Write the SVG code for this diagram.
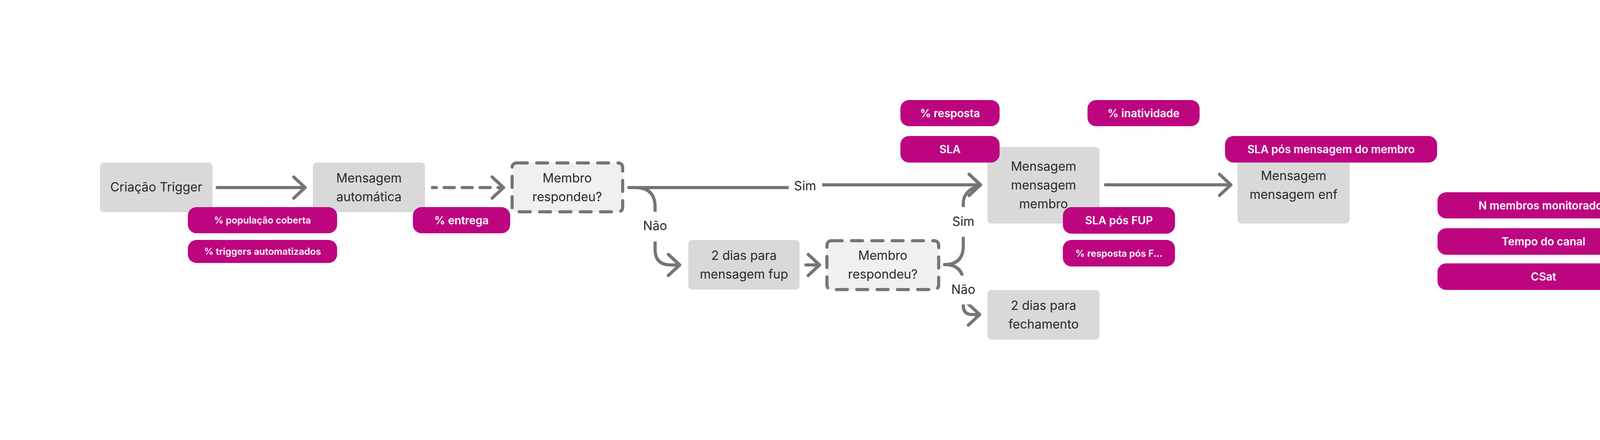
<svg xmlns="http://www.w3.org/2000/svg" width="4480" height="1126" viewBox="0 0 4480 1126">
<defs>
<style>
.bg{fill:#ffffff}
.box{fill:#d9d9d9}
.dec{fill:#f0f0f0;stroke:#757575;stroke-width:8;stroke-dasharray:28 24;stroke-linecap:round;stroke-linejoin:round}
.t{font-family:Inter,'Noto Sans','DejaVu Sans',sans-serif;font-size:32px;fill:#2a2a2a;text-anchor:middle}
.pill{fill:#bd0580}
.pt{font-family:Inter,'Noto Sans','DejaVu Sans',sans-serif;font-size:28px;font-weight:600;fill:#ffffff;text-anchor:middle}
.ps{font-size:24px}
.c{fill:none;stroke:#757575;stroke-width:8;stroke-linecap:round;stroke-linejoin:round}
.dash{stroke-dasharray:26 20;stroke-dashoffset:16}
.lbg{fill:#ffffff}
</style>
<marker id="chev" markerUnits="userSpaceOnUse" viewBox="-40 -40 80 80" markerWidth="80" markerHeight="80" refX="0" refY="0" orient="0" overflow="visible">
<path d="M-29,-27 L0,0 L-29,27" fill="none" stroke="#757575" stroke-width="8" stroke-linecap="round" stroke-linejoin="round" stroke-dasharray="none"/>
</marker>
</defs>
<rect class="bg" x="0" y="0" width="4480" height="1126"/>

<g id="connectors">
<path class="c" d="M556,480 H781" marker-end="url(#chev)"/>
<path class="c dash" d="M1107,480 H1289" marker-end="url(#chev)"/>
<path class="c" d="M1610,480 H2061 V473 H2510" marker-end="url(#chev)"/>
<path class="c" d="M1610,480 H1627 Q1677,480 1677,530 V638 Q1677,678 1717,678 H1740" marker-end="url(#chev)"/>
<path class="c" d="M2063,678 H2098" marker-end="url(#chev)"/>
<path class="c" d="M2418,677 Q2466,677 2466,629 V520 C2466,498 2482,482 2510,473" marker-end="url(#chev)"/>
<path class="c" d="M2418,677 Q2466,677 2466,725 V782 Q2466,805 2489,805 H2508" marker-end="url(#chev)"/>
<path class="c" d="M2830,473 H3151" marker-end="url(#chev)"/>
<rect class="lbg" x="2019" y="455" width="86" height="45"/>
<text class="t" x="2061" y="487">Sim</text>
<rect class="lbg" x="1643" y="542" width="68" height="76"/>
<text class="t" x="1677" y="589">Não</text>
<rect class="lbg" x="2434" y="530" width="64" height="76"/>
<text class="t" x="2466" y="578">Sim</text>
<rect class="lbg" x="2432" y="705" width="68" height="74"/>
<text class="t" x="2466" y="752">Não</text>
</g>

<g id="criacao-trigger">
<rect class="box" x="256" y="416" width="288" height="127" rx="10"/>
<text class="t" x="400" y="490">Criação Trigger</text>
</g>
<g id="mensagem-automatica">
<rect class="box" x="801" y="416" width="287" height="127" rx="10"/>
<text class="t" x="944.5" y="467">Mensagem</text>
<text class="t" x="944.5" y="515">automática</text>
</g>
<g id="membro-respondeu-1">
<rect class="dec" x="1311" y="417" width="283" height="125" rx="11"/>
<text class="t" x="1452" y="467">Membro</text>
<text class="t" x="1452" y="515">respondeu?</text>
</g>
<g id="dias-fup">
<rect class="box" x="1762" y="614" width="285" height="127" rx="10"/>
<text class="t" x="1904.5" y="665">2 dias para</text>
<text class="t" x="1904.5" y="713">mensagem fup</text>
</g>
<g id="membro-respondeu-2">
<rect class="dec" x="2117" y="616" width="286" height="125" rx="11"/>
<text class="t" x="2260" y="665">Membro</text>
<text class="t" x="2260" y="713">respondeu?</text>
</g>
<g id="mensagem-membro">
<rect class="box" x="2528" y="376" width="287" height="196" rx="10"/>
<text class="t" x="2671.5" y="437">Mensagem</text>
<text class="t" x="2671.5" y="485">mensagem</text>
<text class="t" x="2671.5" y="533">membro</text>
</g>
<g id="dias-fechamento">
<rect class="box" x="2528" y="742" width="287" height="127" rx="10"/>
<text class="t" x="2671.5" y="793">2 dias para</text>
<text class="t" x="2671.5" y="841">fechamento</text>
</g>
<g id="mensagem-enf">
<rect class="box" x="3168" y="376" width="287" height="196" rx="10"/>
<text class="t" x="3311.5" y="461">Mensagem</text>
<text class="t" x="3311.5" y="509">mensagem enf</text>
</g>

<g id="m-populacao">
<rect class="pill" x="481" y="530" width="382" height="67" rx="22"/>
<text class="pt ps" x="672" y="572">% população coberta</text>
</g>
<g id="m-triggers">
<rect class="pill" x="481" y="614" width="382" height="59" rx="22"/>
<text class="pt ps" x="672" y="652">% triggers automatizados</text>
</g>
<g id="m-entrega">
<rect class="pill" x="1057" y="530" width="249" height="67" rx="22"/>
<text class="pt" x="1181.5" y="573.5">% entrega</text>
</g>
<g id="m-resposta">
<rect class="pill" x="2305" y="256" width="254" height="67" rx="22"/>
<text class="pt" x="2432" y="299.5">% resposta</text>
</g>
<g id="m-sla">
<rect class="pill" x="2305" y="348" width="254" height="68" rx="22"/>
<text class="pt" x="2432" y="392">SLA</text>
</g>
<g id="m-inatividade">
<rect class="pill" x="2784" y="256" width="287" height="67" rx="22"/>
<text class="pt" x="2927.5" y="299.5">% inatividade</text>
</g>
<g id="m-sla-pos-msg">
<rect class="pill" x="3136" y="348" width="543" height="68" rx="22"/>
<text class="pt" x="3407.5" y="392">SLA pós mensagem do membro</text>
</g>
<g id="m-sla-fup">
<rect class="pill" x="2721" y="530" width="287" height="68" rx="22"/>
<text class="pt" x="2864.5" y="574">SLA pós FUP</text>
</g>
<g id="m-resposta-fup">
<rect class="pill" x="2721" y="614" width="287" height="68" rx="22"/>
<text class="pt ps" x="2864.5" y="656.5">% resposta pós F...</text>
</g>
<g id="m-n-membros">
<rect class="pill" x="3680" y="492" width="543" height="67" rx="22"/>
<text class="pt" x="3951.5" y="535.5">N membros monitorados</text>
</g>
<g id="m-tempo-canal">
<rect class="pill" x="3680" y="584" width="543" height="68" rx="22"/>
<text class="pt" x="3951.5" y="628">Tempo do canal</text>
</g>
<g id="m-csat">
<rect class="pill" x="3680" y="674" width="543" height="68" rx="22"/>
<text class="pt" x="3951.5" y="718">CSat</text>
</g>
</svg>
